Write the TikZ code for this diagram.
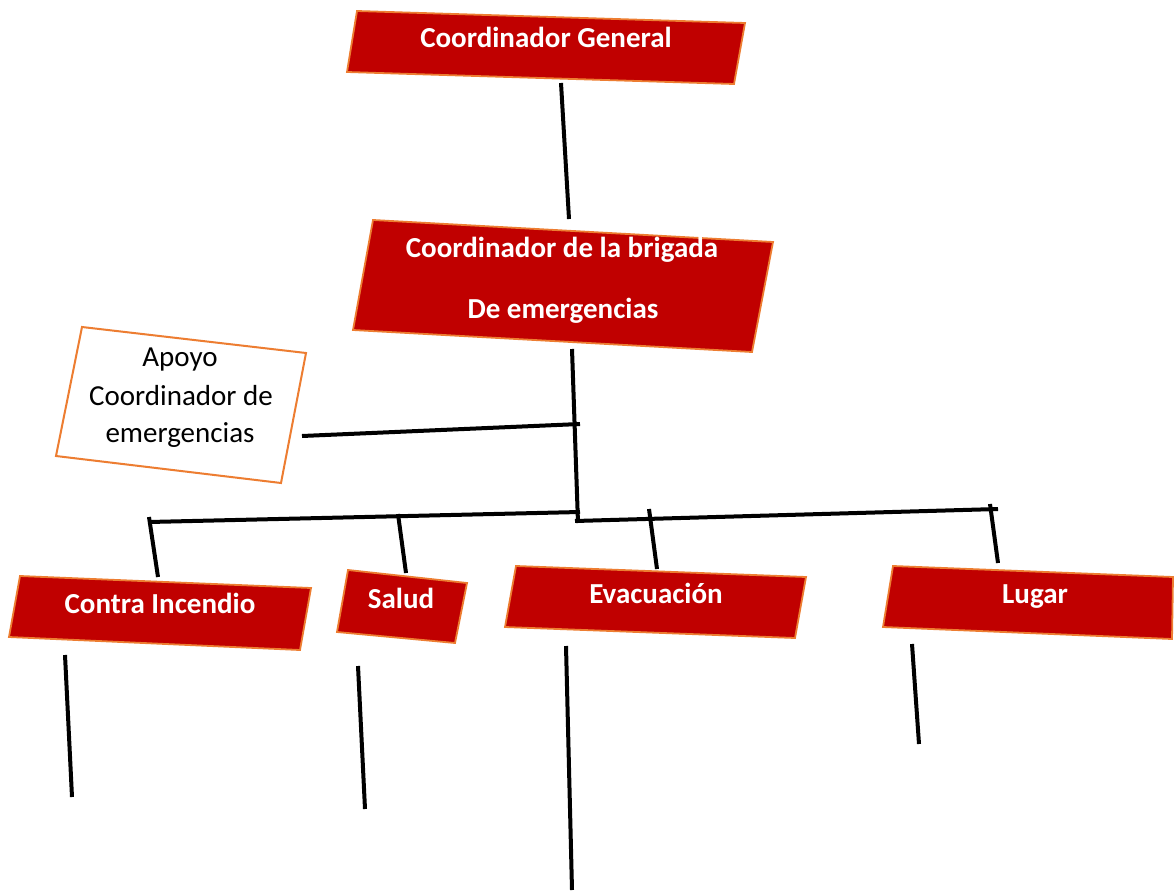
\documentclass[tikz,border=0pt]{standalone}
\usepackage{fontspec}
\setmainfont{Carlito}
\definecolor{boxred}{HTML}{C00000}
\definecolor{boxedge}{HTML}{ED7D31}
\begin{document}
\begin{tikzpicture}[x=1pt,y=-1pt,
  redbox/.style={fill=boxred,draw=boxedge,line width=1.8pt,line join=miter},
  whitebox/.style={fill=white,draw=boxedge,line width=2pt,line join=miter},
  boxlabel/.style={text=white,font=\fontsize{29}{35}\selectfont\bfseries,inner sep=0pt,anchor=base},
  plainlabel/.style={text=black,font=\fontsize{29}{35}\selectfont,inner sep=0pt,anchor=base},
  link/.style={line width=4pt,black}]
\useasboundingbox[fill=white] (0,0) rectangle (1174,893);

% boxes
\draw[redbox] (357,11) -- (745,23) -- (734,84) -- (347,72) -- cycle;
\draw[redbox] (373,220) -- (773,242) -- (752,352) -- (353,330) -- cycle;
\draw[whitebox] (82,327) -- (306,353) -- (281,483) -- (56,456) -- cycle;
\draw[redbox] (20,576) -- (311,588) -- (300,650) -- (9,637) -- cycle;
\draw[redbox] (348,570) -- (467,583) -- (455,643) -- (337,632) -- cycle;
\draw[redbox] (516,566) -- (806,577) -- (795,638) -- (505,627) -- cycle;
\draw[redbox] (893,566) -- (1173,577) -- (1172,639) -- (883,627) -- cycle;

% labels
\node[boxlabel] (cg) at (546,48) {Coordinador General};
\node[boxlabel] (cb1) at (562,258) {Coordinador de la brigada};
\node[boxlabel] (cb2) at (563,318) {De emergencias};
\node[plainlabel] (ap1) at (180,366) {Apoyo};
\node[plainlabel] (ap2) at (181,405) {Coordinador de};
\node[plainlabel] (ap3) at (180,442) {emergencias};
\node[boxlabel] (ci) at (160,613) {Contra Incendio};
\node[boxlabel] (sa) at (401,608) {Salud};
\node[boxlabel] (ev) at (656,603) {Evacuación};
\node[boxlabel] (lu) at (1035,603) {Lugar};

% connector points
\coordinate (cgB) at (561,83);
\coordinate (cbT) at (569,219);
\coordinate (cbB) at (572,349);
\coordinate (jn) at (578,523);
\coordinate (apR) at (302,436);
\coordinate (apJ) at (580,424);
\coordinate (busL) at (149,522);
\coordinate (busLJ) at (580,512);
\coordinate (busRJ) at (575,521);
\coordinate (busR) at (998,509);
\coordinate (ciT0) at (149,517);
\coordinate (ciT) at (158,577);
\coordinate (saT0) at (398,514);
\coordinate (saT) at (406,573);
\coordinate (evT0) at (649,509);
\coordinate (evT) at (657,569);
\coordinate (luT0) at (990,504);
\coordinate (luT) at (998,563);
\coordinate (ciB) at (65,655);
\coordinate (ciE) at (72,797);
\coordinate (saB) at (358,666);
\coordinate (saE) at (365,809);
\coordinate (evB) at (566,646);
\coordinate (evE) at (572,890);
\coordinate (luB) at (912,644);
\coordinate (luE) at (919,744);

% connectors
\draw[link] (cgB) -- (cbT);
\draw[link] (cbB) -- (jn);
\draw[link] (apR) -- (apJ);
\draw[link] (busL) -- (busLJ);
\draw[link] (busRJ) -- (busR);
\draw[link] (ciT0) -- (ciT);
\draw[link] (saT0) -- (saT);
\draw[link] (evT0) -- (evT);
\draw[link] (luT0) -- (luT);
\draw[link] (ciB) -- (ciE);
\draw[link] (saB) -- (saE);
\draw[link] (evB) -- (evE);
\draw[link] (luB) -- (luE);
\end{tikzpicture}
\end{document}
